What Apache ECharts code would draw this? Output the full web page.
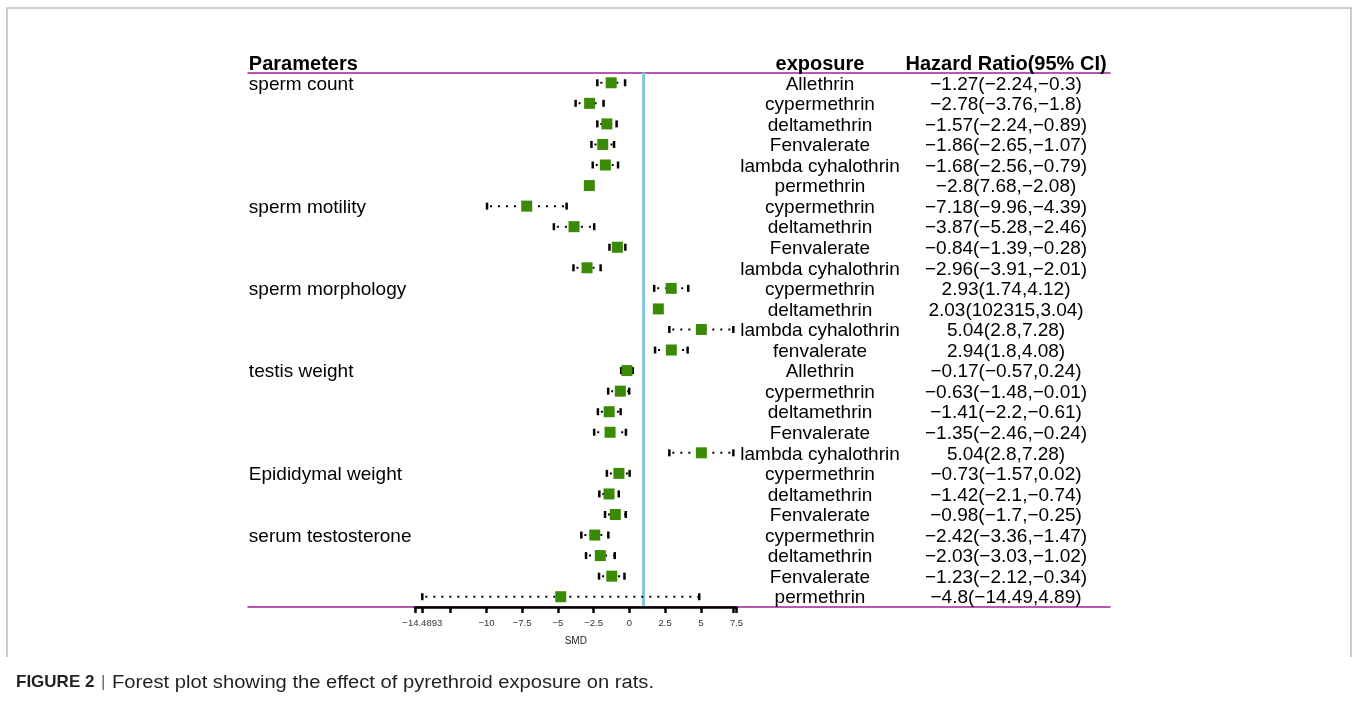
<!DOCTYPE html>
<html>
<head>
<meta charset="utf-8">
<script src="https://cdn.jsdelivr.net/npm/echarts@6/dist/echarts.min.js"></script>
<style>
html,body{margin:0;padding:0;background:#fff;}
#chart{width:1354px;height:711px;}
</style>
</head>
<body>
<div id="chart"></div>
<script>
// ---------- data ----------
const parameters = ['sperm count','','','','','',
  'sperm motility','','','',
  'sperm morphology','','','',
  'testis weight','','','','',
  'Epididymal weight','','',
  'serum testosterone','','',''];
const exposures = ['Allethrin','cypermethrin','deltamethrin','Fenvalerate','lambda cyhalothrin','permethrin',
  'cypermethrin','deltamethrin','Fenvalerate','lambda cyhalothrin',
  'cypermethrin','deltamethrin','lambda cyhalothrin','fenvalerate',
  'Allethrin','cypermethrin','deltamethrin','Fenvalerate','lambda cyhalothrin',
  'cypermethrin','deltamethrin','Fenvalerate',
  'cypermethrin','deltamethrin','Fenvalerate','permethrin'];
const estimates = [-1.27,-2.78,-1.57,-1.86,-1.68,-2.8,
  -7.18,-3.87,-0.84,-2.96,
  2.93,2.03,5.04,2.94,
  -0.17,-0.63,-1.41,-1.35,5.04,
  -0.73,-1.42,-0.98,
  -2.42,-2.03,-1.23,-4.8];
const lowers = [-2.24,-3.76,-2.24,-2.65,-2.56,7.68,
  -9.96,-5.28,-1.39,-3.91,
  1.74,102315,2.8,1.8,
  -0.57,-1.48,-2.2,-2.46,2.8,
  -1.57,-2.1,-1.7,
  -3.36,-3.03,-2.12,-14.49];
const uppers = [-0.3,-1.8,-0.89,-1.07,-0.79,-2.08,
  -4.39,-2.46,-0.28,-2.01,
  4.12,3.04,7.28,4.08,
  0.24,-0.01,-0.61,-0.24,7.28,
  0.02,-0.74,-0.25,
  -1.47,-1.02,-0.34,4.89];
const headers = ['Parameters','exposure','Hazard Ratio(95% CI)'];
const xTickValues = [-15,-14.4893,-12.5,-10,-7.5,-5,-2.5,0,2.5,5,7.28,7.5];
const xLabelValues = [-14.4893,-10,-7.5,-5,-2.5,0,2.5,5,7.5];
const referenceValue = 1;
const axisName = 'SMD';
const captionBold = 'FIGURE 2';
const captionText = 'Forest plot showing the effect of pyrethroid exposure on rats.';

// ---------- helpers ----------
const nRows = estimates.length;
const m = v => String(v).replace(/-/g, '\u2212');
const hrLabels = estimates.map((e, i) => m(e) + '(' + m(lowers[i]) + ',' + m(uppers[i]) + ')');
const forestData = estimates.map((e, i) => [i, e, lowers[i], uppers[i]]);
const tableData = estimates.map((e, i) => [i]);

const FONT = '"Liberation Sans", Arial, sans-serif';
const COL_PARAM = 0.001, COL_EXPO = 0.6636, COL_HR = 0.8794;

function renderForest(params, api) {
  const y = api.value(0), est = api.value(1), lo = api.value(2), hi = api.value(3);
  const c = api.coord([est, y]);
  const children = [];
  if (lo <= hi) {
    const p1 = api.coord([lo, y]), p2 = api.coord([hi, y]);
    children.push({type:'line', shape:{x1:p1[0], y1:p1[1], x2:p2[0], y2:p2[1]},
      style:{stroke:'#000', lineWidth:2, lineDash:[2,6], lineDashOffset:-3}});
    [p1, p2].forEach(p => children.push({type:'line',
      shape:{x1:p[0], y1:p[1]-3.5, x2:p[0], y2:p[1]+3.5},
      style:{stroke:'#000', lineWidth:2.5}}));
  }
  children.push({type:'rect', shape:{x:c[0]-5.5, y:c[1]-5.5, width:11, height:11},
    style:{fill:'#3B8A06'}});
  return {type:'group', children};
}

function textEl(pt, text, align, font, dy) {
  return {type:'text', x:pt[0], y:pt[1] + dy,
    style:{text, fill:'#000', font, align, verticalAlign:'middle'}};
}

function renderTable(params, api) {
  const i = api.value(0);
  const f = '19px ' + FONT;
  return {type:'group', children:[
    textEl(api.coord([COL_PARAM, i]), parameters[i], 'left', f, 1.5),
    textEl(api.coord([COL_EXPO, i]), exposures[i], 'center', f, 1.5),
    textEl(api.coord([COL_HR, i]), hrLabels[i], 'center', f, 1.5)
  ]};
}

function renderHeader(params, api) {
  const f = 'bold 20px ' + FONT;
  return {type:'group', children:[
    textEl(api.coord([COL_PARAM, -1]), headers[0], 'left', f, 2),
    textEl(api.coord([COL_EXPO, -1]), headers[1], 'center', f, 2),
    textEl(api.coord([COL_HR, -1]), headers[2], 'center', f, 2)
  ]};
}

const chart = echarts.init(document.getElementById('chart'), null, {renderer:'canvas'});
const purple = '#A0209A';
const option = {
  animation: false,
  backgroundColor: '#fff',
  graphic: [
    {type: 'polyline', silent: true,
      shape: {points: [[7, 657], [7, 8], [1351, 8], [1351, 657]]},
      style: {stroke: '#bdbdbd', lineWidth: 1.5, fill: null}},
    {type: 'text', left: 16, top: 674, silent: true,
      style: {text: captionBold, font: 'bold 17px "Liberation Sans", Arial, sans-serif', fill: '#231f20'}},
    {type: 'text', left: 101, top: 674, silent: true,
      style: {text: '|', font: '17px "Liberation Sans", Arial, sans-serif', fill: '#666'}},
    {type: 'text', left: 112, top: 674, silent: true, scaleX: 1.12, originX: 0,
      style: {text: captionText, font: '18px "Liberation Sans", Arial, sans-serif', fill: '#231f20'}}
  ],
  grid: [
    {left: 415, width: 321.5, top: 72.5, height: 534.5},
    {left: 248, width: 862, top: 72.5, height: 534.5}
  ],
  xAxis: [
    {type:'value', gridIndex:0, min:-15, max:7.5, z:5, position:'bottom',
      name: axisName, nameLocation:'middle', nameGap:29,
      nameTextStyle:{fontFamily:FONT, fontSize:10, color:'#222'},
      axisLine:{show:true, onZero:false, lineStyle:{color:'#000', width:2.5}},
      axisTick:{show:true, customValues:xTickValues, length:6, lineStyle:{color:'#000', width:2.5}},
      axisLabel:{show:true, customValues:xLabelValues, margin:11, fontSize:9.5, fontFamily:FONT, color:'#333',
        formatter: v => m(v)},
      splitLine:{show:false}},
    {type:'value', gridIndex:1, min:0, max:1, position:'bottom',
      axisLine:{show:true, onZero:false, lineStyle:{color:purple, width:1.5}},
      axisTick:{show:false}, axisLabel:{show:false}, splitLine:{show:false}},
    {type:'value', gridIndex:1, min:0, max:1, position:'top',
      axisLine:{show:true, onZero:false, lineStyle:{color:purple, width:1.5}},
      axisTick:{show:false}, axisLabel:{show:false}, splitLine:{show:false}}
  ],
  yAxis: [
    {type:'value', gridIndex:0, min:-0.5, max:nRows-0.5, inverse:true, show:false},
    {type:'value', gridIndex:1, min:-0.5, max:nRows-0.5, inverse:true, show:false}
  ],
  series: [
    {type:'custom', xAxisIndex:1, yAxisIndex:1, data:tableData, renderItem:renderTable,
      encode:{y:0}, clip:false, silent:true, z:1},
    {type:'custom', xAxisIndex:1, yAxisIndex:1, data:[[-1]], renderItem:renderHeader,
      encode:{y:0}, clip:false, silent:true, z:1},
    {type:'custom', xAxisIndex:0, yAxisIndex:0, data:forestData, renderItem:renderForest,
      encode:{x:[1,2,3], y:0}, clip:false, silent:true, z:3,
      markLine:{silent:true, symbol:'none', label:{show:false},
        lineStyle:{color:'#86C8DA', width:3, type:'solid'},
        data:[{xAxis: referenceValue}], z:2}}
  ]
};
chart.setOption(option);
</script>
</body>
</html>
